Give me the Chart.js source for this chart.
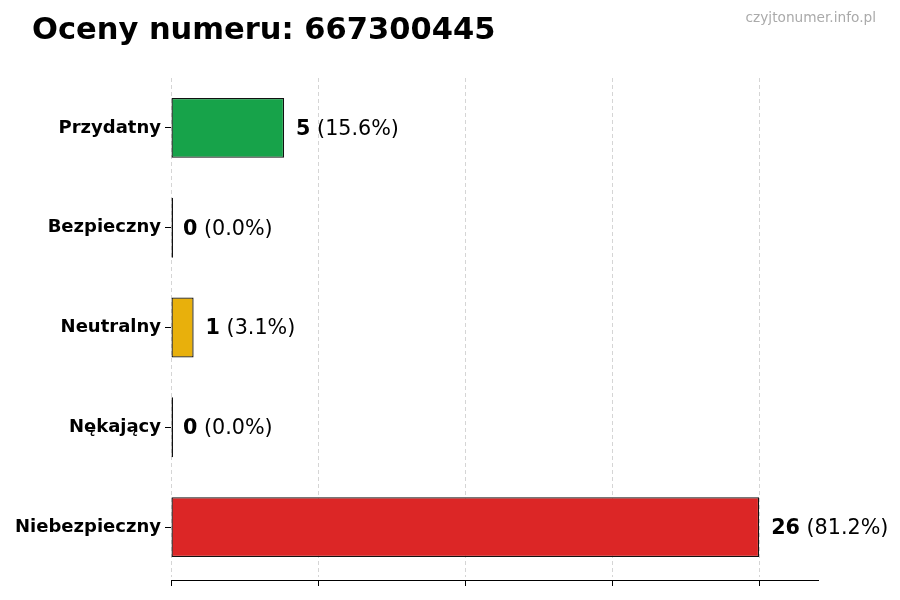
<!DOCTYPE html>
<html>
<head>
<meta charset="utf-8">
<script src="https://cdn.jsdelivr.net/npm/chart.js@4/dist/chart.umd.min.js"></script>
<style>
  body { margin: 0; background: #fff; }
  #wrap { position: relative; width: 900px; height: 600px; }
  #chart { position: absolute; left: 0; top: 0; }
  #title { position: absolute; left: 32px; top: 11px; font: bold 30.5px "DejaVu Sans", sans-serif; color: #000; }
  #mark { position: absolute; right: 24px; top: 9px; font: 13.7px "DejaVu Sans", sans-serif; color: #aaa; }
</style>
</head>
<body>
<div id="wrap">
  <canvas id="chart" width="900" height="600"></canvas>
  <div id="title">Oceny numeru: 667300445</div>
  <div id="mark">czyjtonumer.info.pl</div>
</div>
<script>
// dane z obrazka
const categories = ["Przydatny", "Bezpieczny", "Neutralny", "Nękający", "Niebezpieczny"];
const counts = [5, 0, 1, 0, 26];
const percents = ["15.6", "0.0", "3.1", "0.0", "81.2"];
const colors = ["#17a34a", "#2a2a2a", "#e8b00c", "#2a2a2a", "#dc2626"];
const xTicks = [0, 6.5, 13, 19.5, 26];

const xMax = 28.6;

// etykiety wartości przy słupkach
const valueLabels = {
  id: "valueLabels",
  afterDraw(chart) {
    const ctx = chart.ctx;
    const meta = chart.getDatasetMeta(0);
    const xs = chart.scales.x;
    ctx.save();
    ctx.textBaseline = "middle";
    ctx.fillStyle = "#000";
    meta.data.forEach((bar, i) => {
      const x = xs.getPixelForValue(counts[i]) + 12;
      const y = bar.y + 1.5;
      ctx.font = "bold 20.7px 'DejaVu Sans'";
      ctx.fillText(counts[i], x, y);
      const w = ctx.measureText(String(counts[i])).width;
      ctx.font = "20.7px 'DejaVu Sans'";
      ctx.fillText(" (" + percents[i] + "%)", x + w, y);
    });
    ctx.restore();
  }
};

const setTicks = scale => { scale.ticks = xTicks.map(v => ({ value: v })); };

new Chart(document.getElementById("chart"), {
  type: "bar",
  data: {
    labels: categories,
    datasets: [{
      data: counts,
      backgroundColor: colors,
      borderColor: "#111",
      borderWidth: 1.3,
      borderSkipped: false,
      minBarLength: 2,
      barPercentage: 0.6,
      categoryPercentage: 1
    }]
  },
  options: {
    indexAxis: "y",
    responsive: false,
    devicePixelRatio: 1,
    animation: false,
    layout: { padding: { top: 78, right: 82, left: 0, bottom: 0 } },
    plugins: { legend: { display: false }, tooltip: { enabled: false } },
    scales: {
      x: {
        min: 0, max: xMax,
        z: 1,
        afterBuildTicks: setTicks,
        afterFit: s => { s.height = 3; },
        ticks: { display: false },
        grid: { color: "rgba(150,150,150,0.4)", drawTicks: false, lineWidth: 1 },
        border: { display: false, dash: [4, 3] }
      },
      x2: {
        type: "linear",
        position: "bottom",
        min: 0, max: xMax,
        afterBuildTicks: setTicks,
        afterFit: s => { s.height = 20; },
        ticks: { callback: () => "" },
        grid: { drawOnChartArea: false, tickLength: 6, tickColor: "#000" },
        border: { display: true, color: "#000", width: 1 }
      },
      y: {
        afterFit: s => { s.width = 171; },
        grid: { drawOnChartArea: false, offset: false, tickLength: 6, tickColor: "#000" },
        border: { display: false },
        ticks: { color: "#000", padding: 4, font: { family: "DejaVu Sans", size: 18, weight: "bold" } }
      }
    }
  },
  plugins: [valueLabels]
});
</script>
</body>
</html>
